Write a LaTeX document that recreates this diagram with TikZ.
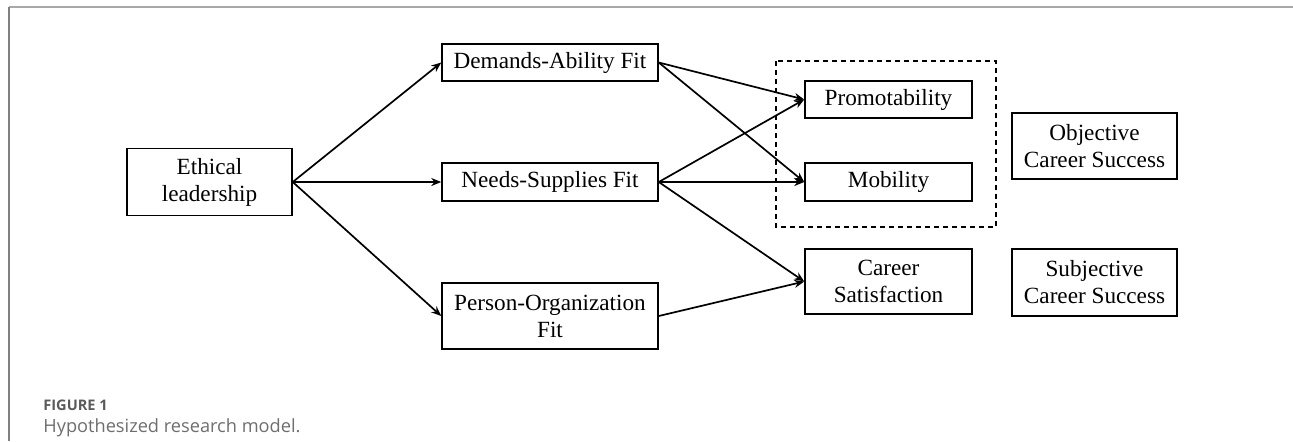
\documentclass[tikz,border=0pt]{standalone}
\usepackage{fontspec}
\setmainfont{Liberation Serif}
\newfontfamily\capfont{Open Sans}
\usetikzlibrary{arrows.meta}
\definecolor{framegray}{HTML}{A8A8A8}
\definecolor{capgray}{HTML}{5A5A5A}
\definecolor{captext}{HTML}{6E6E6E}
\tikzset{
  x=0.5pt, y=-0.5pt,
  box/.style={draw, line width=0.75pt, inner sep=0pt, align=center,
    font=\fontsize{11.6pt}{13.5pt}\selectfont},
  link/.style={line width=0.85pt, -{Stealth[length=5pt,width=4pt]}},
  group/.style={draw, dashed, line width=0.7pt, dash pattern=on 2.5pt off 2pt},
}
\begin{document}
\begin{tikzpicture}
\useasboundingbox (0,0) rectangle (1293,441);
% page frame
\draw[framegray, line width=1pt] (9,7) -- (1293,7);
\draw[gray, line width=0.6pt] (9,7) -- (9,441);

% predictor
\node[box, minimum width=82.5pt, minimum height=33.5pt] (eth) at (209.5,182) {Ethical\\leadership};
% fit variables
\node[box, minimum width=108pt, minimum height=18.5pt] (da) at (550,62.5) {Demands-Ability Fit};
\node[box, minimum width=108pt, minimum height=19pt] (ns) at (550,182) {Needs-Supplies Fit};
\node[box, minimum width=108pt, minimum height=33pt] (po) at (550,316) {Person-Organization\\Fit};
% outcomes
\node[box, minimum width=83.5pt, minimum height=18.5pt] (prom) at (888.5,99.5) {Promotability};
\node[box, minimum width=83.5pt, minimum height=19pt] (mob) at (888.5,182) {Mobility};
\node[box, minimum width=83.5pt, minimum height=32.5pt] (cs) at (888.5,281.5) {Career\\Satisfaction};
\draw[group] (776,61) rectangle (996,227);
% outcome categories
\node[box, minimum width=82.5pt, minimum height=33pt] (obj) at (1094.5,146) {Objective\\Career Success};
\node[box, minimum width=82.5pt, minimum height=33.5pt] (subj) at (1094.5,282.5) {Subjective\\Career Success};

% paths
\draw[link] (eth.east) -- (da.west);
\draw[link] (eth.east) -- (ns.west);
\draw[link] (eth.east) -- (po.west);
\draw[link] (da.east) -- (prom.west);
\draw[link] (da.east) -- (mob.west);
\draw[link] (ns.east) -- (prom.west);
\draw[link] (ns.east) -- (mob.west);
\draw[link] (ns.east) -- (cs.west);
\draw[link] (po.east) -- (cs.west);

% caption
\node[anchor=base west, inner sep=0pt, text=capgray, font=\capfont\bfseries\fontsize{7.3pt}{8pt}\selectfont] (fig) at (43,410) {FIGURE 1};
\node[anchor=base west, inner sep=0pt, text=captext, font=\capfont\fontsize{9.1pt}{10pt}\selectfont] (cap) at (43,432) {Hypothesized research model.};
\end{tikzpicture}
\end{document}
